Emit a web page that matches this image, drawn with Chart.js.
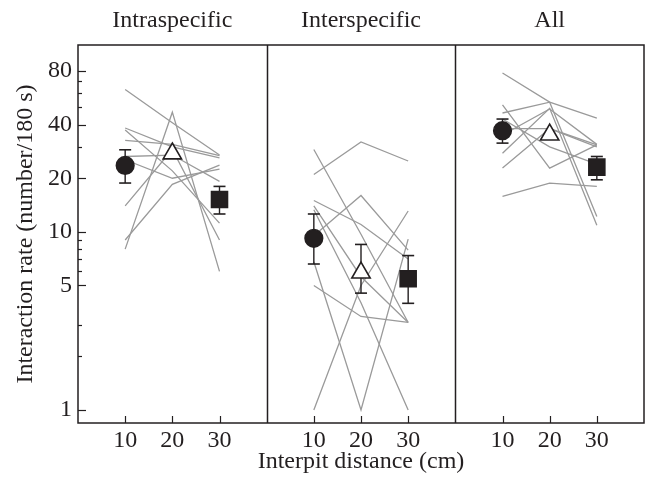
<!DOCTYPE html>
<html lang="en">
<head>
<meta charset="UTF-8" />
<title>Interaction rate by interpit distance</title>
<script src="https://cdn.jsdelivr.net/npm/chart.js"></script>
<style>
  html, body { margin: 0; padding: 0; background: #fff; }
</style>
</head>
<body>
<canvas id="chart" width="651" height="486"></canvas>
<script>
// panels, each spans 40 units on one shared x axis
const panels = ['Intraspecific', 'Interspecific', 'All'];
const distances = [10, 20, 30];
const panelSpan = 40;

// one triplet per individual: rate at 10, 20, 30 cm
const intraLines = [
  [63, 41, 27],
  [8, 47, 6],
  [9, 18.5, 23.7],
  [14, 29, 9],
  [38.3, 30, 26],
  [37.3, 22, 11.2],
  [32.6, 31, 26.8],
  [26.5, 27, 19.2],
  [25.4, 20, 22.5]
];
const interLines = [
  [21, 32, 25],
  [29, 9.7, 3.1],
  [15, 11, 7.05],
  [9.5, 16, 7.9],
  [14, 5.6, 3.1],
  [13.3, 4, 1],
  [6.8, 1, 9.1],
  [5, 3.35, 3.1],
  [1, 5, 13.1]
];
const allLines = [
  [78, 53.5, 43.5],
  [46.5, 53.5, 12.2],
  [51.7, 22.8, 30.8],
  [27.6, 49.4, 10.9],
  [22.8, 38, 30.8],
  [15.8, 18.8, 18.0],
  [38, 38, 30],
  [43, 30, 24],
  [35, 49, 31]
];

// group means (per panel: 10, 20, 30 cm) and error bar ends
const means = [[23.6, 27.5, 15.2], [9.2, 5.9, 5.46], [37.0, 35.1, 23.1]];
const errLow = [[18.8, null, 12.6], [6.6, 4.53, 3.97], [31.5, null, 19.6]];
const errHigh = [[28.9, null, 18.0], [12.6, 8.5, 7.36], [43.0, null, 26.5]];

// y axis ticks
const yLabels = [1, 5, 10, 20, 40, 80];
const yMinor = [2, 3, 6, 7, 8, 9, 30, 50, 60, 70];

const ink = '#231f20';
const grey = '#9a9a9a';
const font = 'Liberation Serif';
const fontSize = 24;

const datasets = [];

// mean markers, one dataset per distance
const markerStyle = ['circle', 'triangle', 'rect'];
const markerFill = [ink, '#ffffff', ink];
const markerRadius = [8.8, 10.6, 11.3];
distances.forEach((d, j) => {
  datasets.push({
    type: 'scatter',
    data: panels.map((p, i) => ({ x: d + i * panelSpan, y: means[i][j] })),
    pointStyle: markerStyle[j],
    pointRadius: markerRadius[j],
    pointBackgroundColor: markerFill[j],
    pointBorderColor: ink,
    pointBorderWidth: 1.6,
    order: 0
  });
});

// error bars
panels.forEach((p, i) => {
  distances.forEach((d, j) => {
    if (errLow[i][j] == null) return;
    datasets.push({
      type: 'line',
      data: [{ x: d + i * panelSpan, y: errLow[i][j] }, { x: d + i * panelSpan, y: errHigh[i][j] }],
      borderColor: ink,
      borderWidth: 1.4,
      pointStyle: 'line',
      pointRadius: 6,
      pointBorderColor: ink,
      pointBorderWidth: 1.6,
      order: 1
    });
  });
});

// individual lines
[intraLines, interLines, allLines].forEach((set, i) => {
  set.forEach(vals => {
    datasets.push({
      type: 'line',
      data: vals.map((v, j) => ({ x: distances[j] + i * panelSpan, y: v })),
      borderColor: grey,
      borderWidth: 1.3,
      pointRadius: 0,
      order: 2
    });
  });
});

// frame, panel dividers and inward tick marks
const framePlugin = {
  id: 'frame',
  afterDraw(chart) {
    const { ctx, chartArea: a, scales: { x, y } } = chart;
    const seg = (x1, y1, x2, y2) => { ctx.beginPath(); ctx.moveTo(x1, y1); ctx.lineTo(x2, y2); ctx.stroke(); };
    ctx.save();
    ctx.strokeStyle = ink;
    ctx.lineWidth = 1.5;
    ctx.strokeRect(a.left, a.top, a.right - a.left, a.bottom - a.top);
    for (let i = 1; i < panels.length; i++) {
      const px = Math.round(x.getPixelForValue(i * panelSpan)) + 0.5;
      seg(px, a.top, px, a.bottom);
    }
    ctx.lineWidth = 1.2;
    yLabels.forEach(v => {
      const py = Math.round(y.getPixelForValue(v)) + 0.5;
      seg(a.left, py, a.left + 8, py);
    });
    yMinor.forEach(v => {
      const py = Math.round(y.getPixelForValue(v)) + 0.5;
      seg(a.left, py, a.left + 4, py);
    });
    panels.forEach((p, i) => {
      distances.forEach(d => {
        const px = Math.round(x.getPixelForValue(d + i * panelSpan)) + 0.5;
        seg(px, a.bottom, px, a.bottom - 7);
      });
    });
    ctx.restore();
  }
};

const noGrid = { display: false, drawTicks: false, tickLength: 0 };

new Chart(document.getElementById('chart'), {
  data: { datasets },
  options: {
    responsive: false,
    animation: false,
    layout: { autoPadding: false, padding: { left: 0, right: 7, top: 0, bottom: 0 } },
    plugins: { legend: { display: false }, tooltip: { enabled: false } },
    scales: {
      x: {
        type: 'linear',
        position: 'bottom',
        min: 0,
        max: panelSpan * panels.length,
        grid: noGrid,
        border: { display: false },
        afterBuildTicks: s => {
          s.ticks = [];
          panels.forEach((p, i) => distances.forEach(d => s.ticks.push({ value: d + i * panelSpan })));
        },
        afterFit: s => { s.height = 63; s.paddingLeft = 0; s.paddingRight = 0; },
        ticks: {
          autoSkip: false,
          maxRotation: 0,
          padding: 3,
          color: ink,
          font: { family: font, size: fontSize },
          callback: v => String(v % panelSpan)
        },
        title: {
          display: true,
          text: 'Interpit distance (cm)',
          color: ink,
          font: { family: font, size: fontSize },
          padding: { top: 0, bottom: 10 }
        }
      },
      x2: {
        type: 'linear',
        position: 'top',
        min: 0,
        max: panelSpan * panels.length,
        grid: noGrid,
        border: { display: false },
        afterBuildTicks: s => { s.ticks = panels.map((p, i) => ({ value: 20 + i * panelSpan })); },
        afterFit: s => { s.height = 45; s.paddingLeft = 0; s.paddingRight = 0; },
        ticks: {
          autoSkip: false,
          maxRotation: 0,
          padding: 10,
          color: ink,
          font: { family: font, size: fontSize },
          callback: v => panels[Math.floor(v / panelSpan)]
        }
      },
      y: {
        type: 'logarithmic',
        position: 'left',
        min: 0.845,
        max: 112,
        grid: noGrid,
        border: { display: false },
        afterBuildTicks: s => {
          s.ticks = yLabels.concat(yMinor).sort((a, b) => a - b).map(v => ({ value: v }));
        },
        afterFit: s => { s.width = 78; },
        ticks: {
          autoSkip: false,
          padding: 6,
          color: ink,
          font: { family: font, size: fontSize },
          callback: v => yLabels.includes(v) ? String(v) : ''
        },
        title: {
          display: true,
          text: 'Interaction rate (number/180 s)',
          color: ink,
          font: { family: font, size: fontSize },
          padding: { top: 11, bottom: 0 }
        }
      }
    }
  },
  plugins: [framePlugin]
});
</script>
</body>
</html>
